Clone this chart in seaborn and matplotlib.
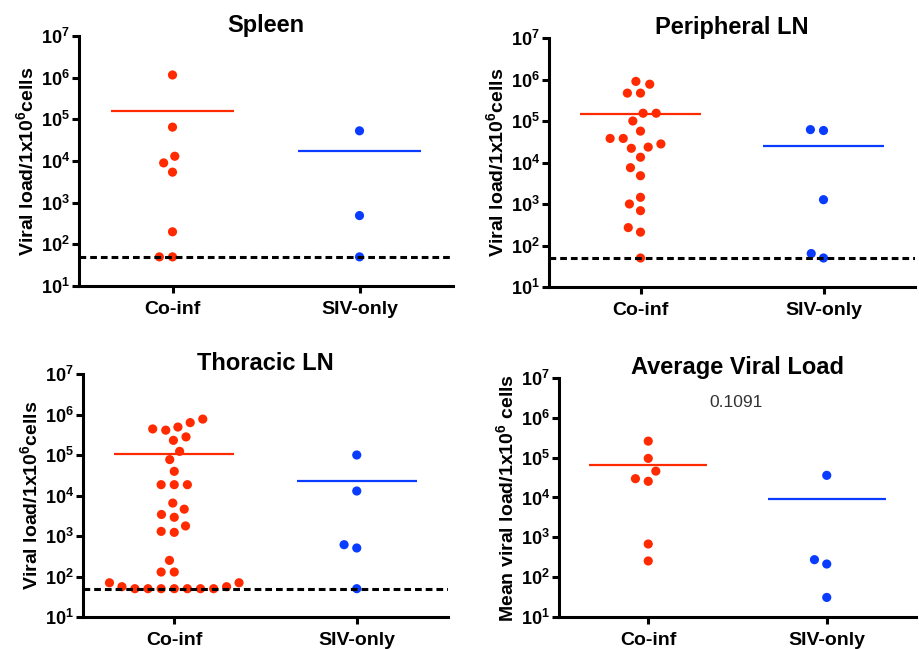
import numpy as np
import pandas as pd
import matplotlib
matplotlib.use("Agg")
import matplotlib.pyplot as plt
import seaborn as sns

# ---------------- data ----------------
groups = ["Co-inf", "SIV-only"]

spleen_coinf = [1.16e6, 6.5e4, 1.3e4, 9.0e3, 5.4e3, 200, 50, 50]
spleen_siv = [5.3e4, 490, 50]

periph_coinf = [7.7e5, 9.0e5, 4.7e5, 4.7e5, 1.54e5, 1.54e5, 1.0e5, 5.7e4,
                3.8e4, 3.8e4, 2.8e4, 2.2e4, 2.35e4, 1.34e4, 7.5e3, 4.8e3,
                1.45e3, 1.0e3, 690, 270, 210, 50]
periph_siv = [5.9e4, 6.2e4, 1.27e3, 64, 50]

thor_coinf = [7.7e5, 6.3e5, 4.9e5, 4.1e5, 4.4e5, 2.3e5, 2.8e5, 1.23e5,
              7.7e4, 3.95e4, 1.85e4, 1.85e4, 1.85e4, 6.5e3, 4.6e3, 3.4e3,
              2.9e3, 1.77e3, 1.23e3, 1.3e3, 250, 129, 129, 70, 70, 56, 56,
              50, 50, 50, 50, 50, 50, 50]
thor_siv = [1.0e5, 1.29e4, 610, 506, 50]

avg_coinf = [2.6e5, 9.6e4, 4.6e4, 2.55e4, 2.97e4, 680, 255]
avg_siv = [3.6e4, 275, 214, 31]

titles = ["Spleen", "Peripheral LN", "Thoracic LN", "Average Viral Load"]
ylabels = [r"Viral load/1x10$^{6}$cells", r"Viral load/1x10$^{6}$cells",
           r"Viral load/1x10$^{6}$cells", r"Mean viral load/1x10$^{6}$ cells"]
detection_limit = 50
p_value_text = "0.1091"
tick_exponents = [1, 2, 3, 4, 5, 6, 7]

# ---------------- style ----------------
sns.set_theme(style="white")
plt.rcParams["font.family"] = ["Liberation Sans", "DejaVu Sans"]
plt.rcParams["mathtext.fontset"] = "custom"
plt.rcParams["mathtext.rm"] = "Liberation Sans:bold"
plt.rcParams["mathtext.it"] = "Liberation Sans:bold"
plt.rcParams["mathtext.bf"] = "Liberation Sans:bold"
plt.rcParams["mathtext.sf"] = "Liberation Sans:bold"
plt.rcParams["mathtext.default"] = "rm"
for k in ["text.color", "axes.labelcolor", "xtick.color", "ytick.color",
          "axes.titlecolor"]:
    plt.rcParams[k] = "black"

red = "#FF2A00"
blue = "#0A3CFF"
palette = {"Co-inf": red, "SIV-only": blue}

W, H = 919, 649
fig = plt.figure(figsize=(W / 100, H / 100), dpi=100)

# axes rectangles in pixels: left, right, top, bottom
rects_px = [(79, 453, 36, 286), (549, 915, 38, 287),
            (83, 448, 374, 617), (559, 916, 378, 617)]

datasets = [(spleen_coinf, spleen_siv), (periph_coinf, periph_siv),
            (thor_coinf, thor_siv), (avg_coinf, avg_siv)]

for i, ((l, r, t, b), (co, siv)) in enumerate(zip(rects_px, datasets)):
    ax = fig.add_axes([l / W, 1 - b / H, (r - l) / W, (b - t) / H])
    df = pd.DataFrame({
        "group": ["Co-inf"] * len(co) + ["SIV-only"] * len(siv),
        "value": list(co) + list(siv),
    })
    ax.set_yscale("log")
    ax.set_ylim(10, 1e7)
    ax.set_xlim(-0.5, 1.5)
    # invisible marker edge widens the swarm spacing (Prism-like layout)
    sns.swarmplot(data=df, x="group", y="value", hue="group", order=groups,
                  palette=palette, size=6.6, linewidth=2.4, edgecolor="none",
                  legend=False, ax=ax, zorder=3, warn_thresh=1)
    ax.set_yscale("log")
    ax.set_ylim(10, 1e7)
    ax.set_xlim(-0.5, 1.5)

    means = df.groupby("group")["value"].mean()
    for j, g in enumerate(groups):
        ax.hlines(means[g], j - 0.33, j + 0.33, color=palette[g], lw=1.6, zorder=2)

    if i < 3:
        ax.axhline(detection_limit, color="black", lw=2.2,
                   linestyle=(0, (2.2, 1.3)), zorder=4)
    else:
        ax.text(0.49, 2.4e6, p_value_text, ha="center", va="center",
                fontsize=12.5, color="#333333")

    ax.set_yticks([10.0 ** e for e in tick_exponents])
    ax.set_yticklabels([f"$10^{{{e}}}$" for e in tick_exponents], fontsize=13)
    ax.yaxis.set_minor_locator(matplotlib.ticker.NullLocator())
    ax.set_xticks([0, 1])
    ax.set_xticklabels(groups, fontsize=14, fontweight="bold")
    ax.set_xlabel("")
    ax.set_ylabel(ylabels[i], fontsize=14, fontweight="bold", labelpad=3)
    ax.set_title(titles[i], fontsize=17, fontweight="bold", pad=3)

    for s in ["top", "right"]:
        ax.spines[s].set_visible(False)
    for s in ["left", "bottom"]:
        ax.spines[s].set_linewidth(2.2)
        ax.spines[s].set_color("black")
    ax.tick_params(axis="both", which="major", direction="out", length=5,
                   width=2.2, color="black", left=True, bottom=True, pad=1.5)
    ax.tick_params(axis="x", pad=6)

fig.savefig("out.png", dpi=100, facecolor="white")
